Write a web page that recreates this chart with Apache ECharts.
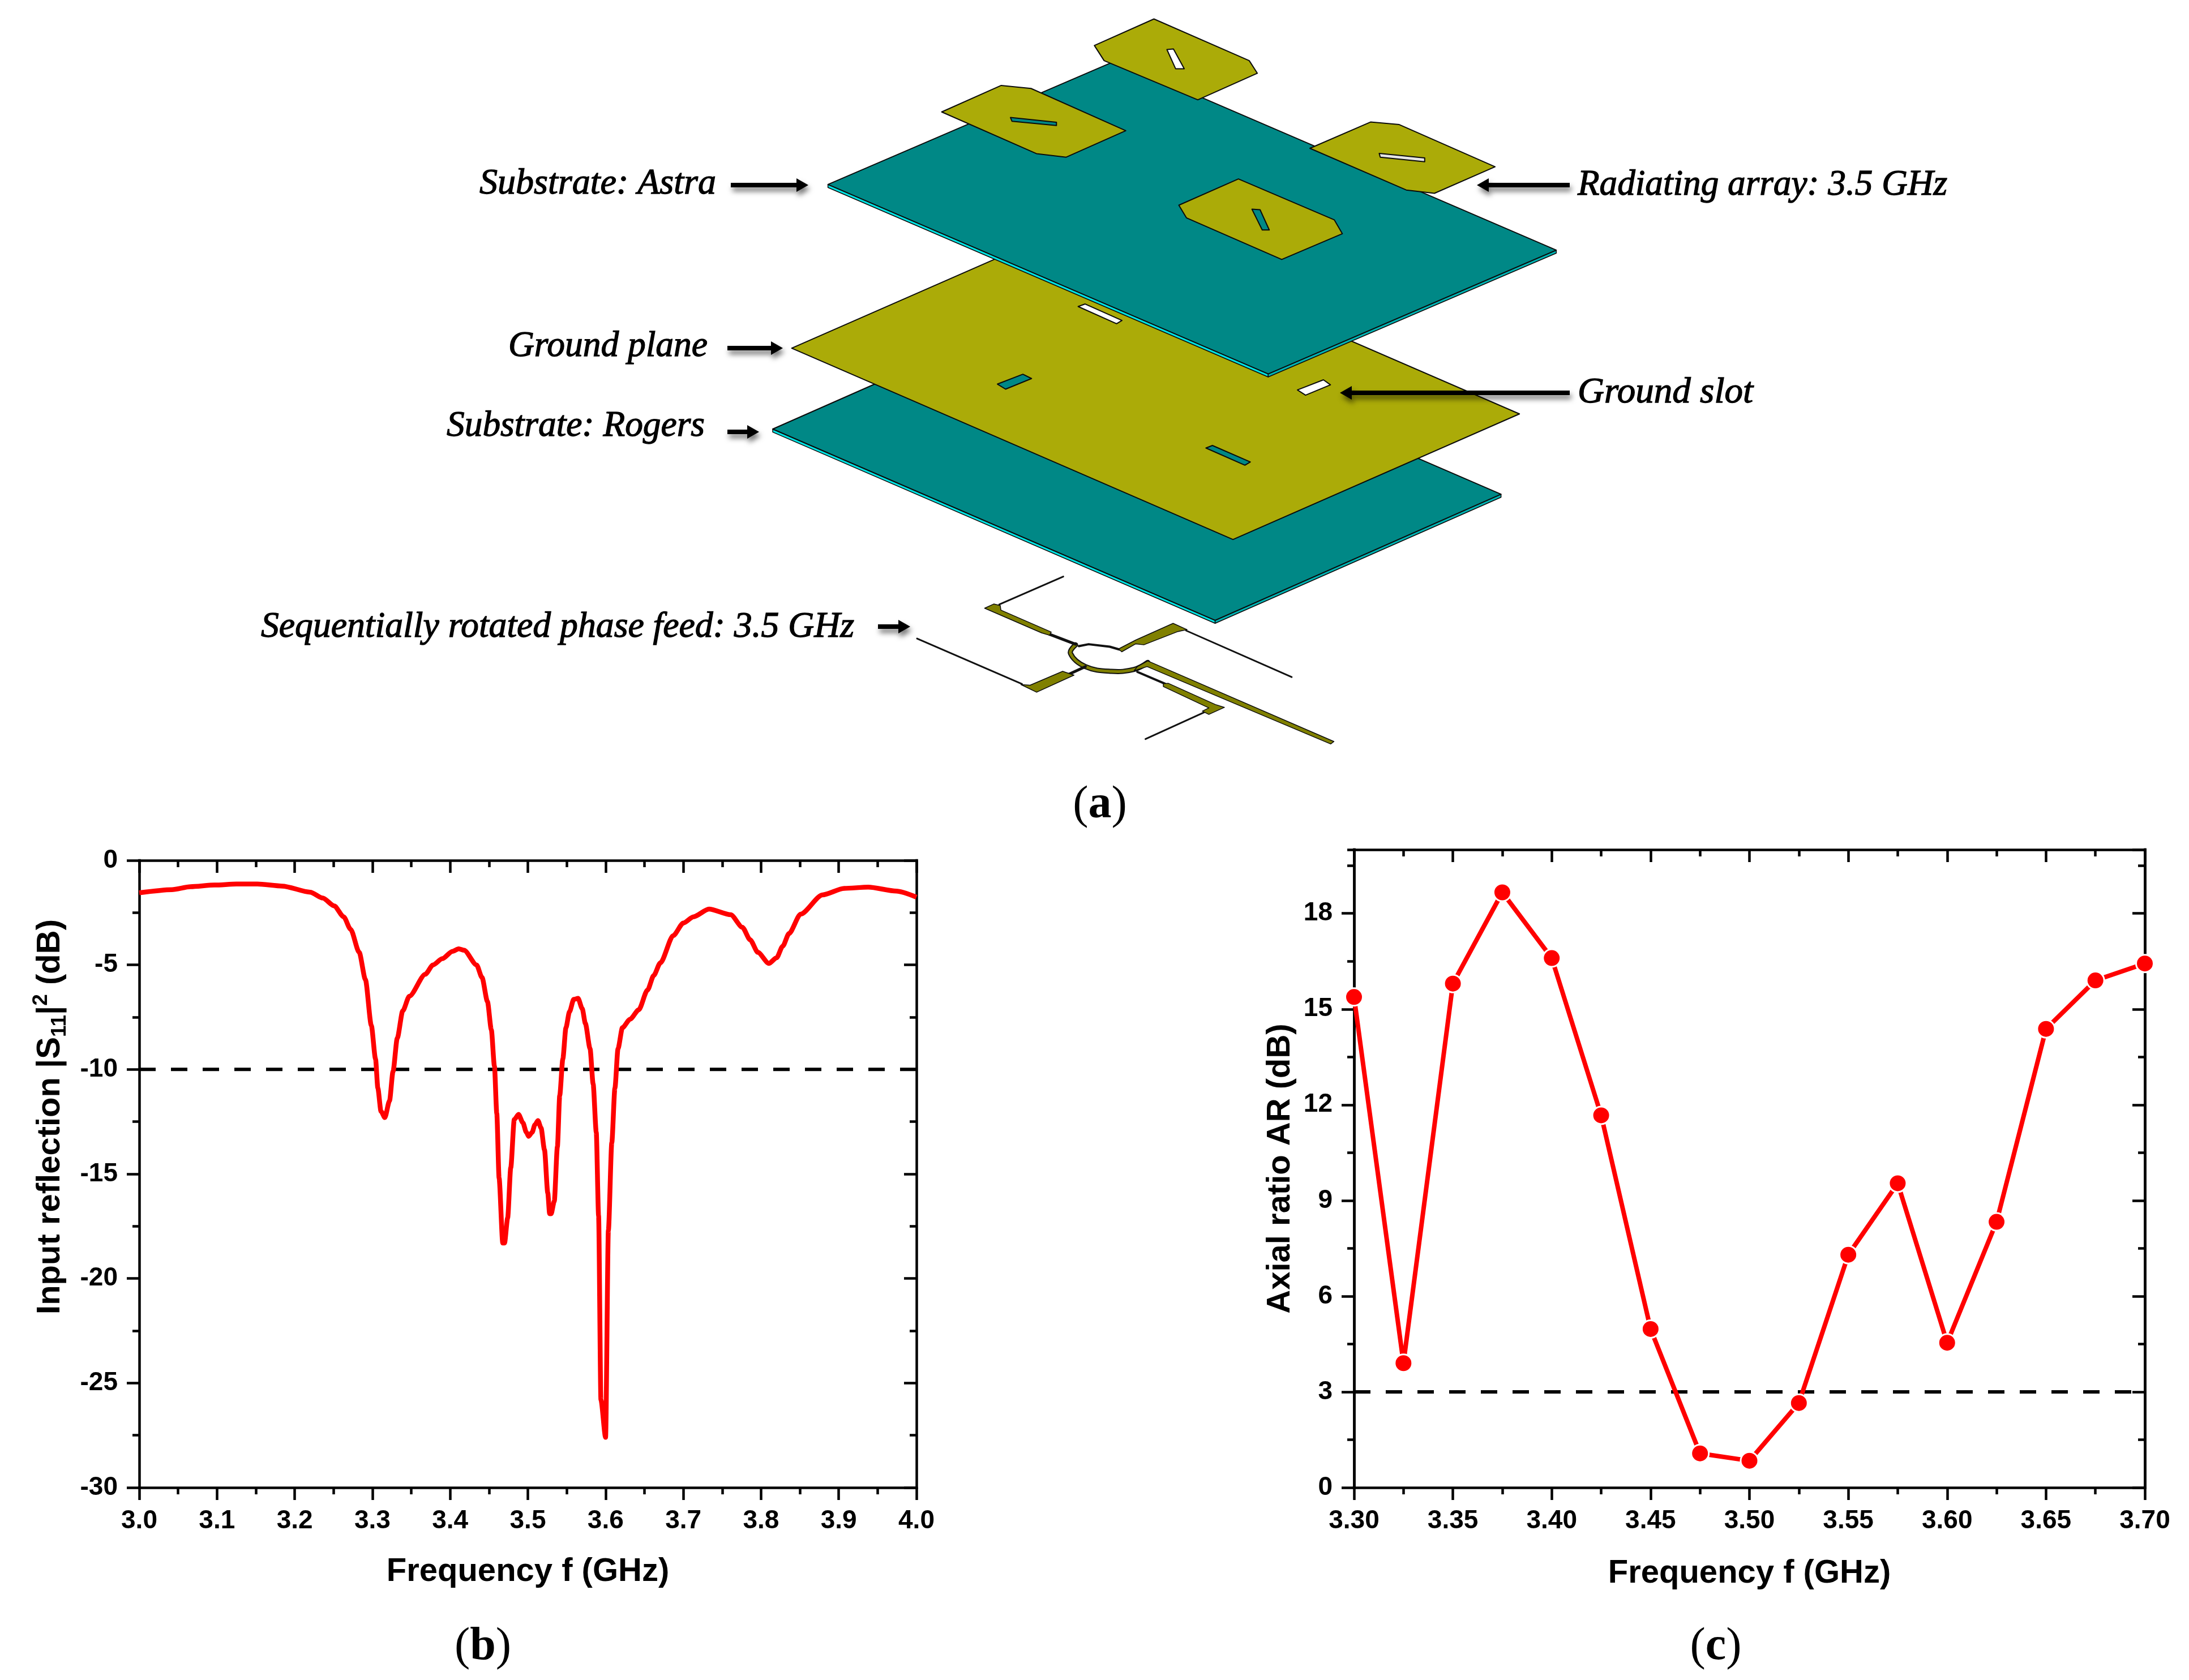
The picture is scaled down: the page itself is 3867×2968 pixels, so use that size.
<!DOCTYPE html>
<html>
<head>
<meta charset="utf-8">
<style>html,body{margin:0;padding:0;background:#fff}#c{width:3867px;height:2968px}</style>
<script src="https://cdn.jsdelivr.net/npm/echarts@6/dist/echarts.min.js"></script>
</head>
<body>
<div id="c"></div>
<script>
// ---------- data ----------
const s11Freq = [3.0,3.042,3.066,3.097,3.125,3.152,3.184,3.22,3.236,3.251,3.263,3.272,3.283,3.291,3.2986,3.304,3.307,3.311,3.316,3.322,3.3265,3.332,3.339,3.3475,3.368,3.378,3.39,3.403,3.411,3.418,3.434,3.441,3.448,3.453,3.457,3.46,3.463,3.4677,3.47,3.474,3.478,3.4825,3.488,3.4936,3.498,3.501,3.5056,3.509,3.513,3.517,3.5214,3.5256,3.528,3.53,3.534,3.538,3.541,3.545,3.549,3.5535,3.559,3.5646,3.57,3.574,3.58,3.584,3.588,3.591,3.594,3.6,3.6036,3.608,3.612,3.616,3.6217,3.6315,3.6426,3.654,3.662,3.6705,3.687,3.7,3.713,3.733,3.761,3.776,3.786,3.796,3.81,3.82,3.828,3.836,3.851,3.879,3.907,3.938,3.974,4.0];
const s11Db = [-1.55,-1.4,-1.26,-1.18,-1.13,-1.13,-1.23,-1.52,-1.8,-2.18,-2.7,-3.3,-4.4,-5.7,-7.9,-9.5,-10.9,-12.0,-12.3,-11.5,-10.1,-8.5,-7.2,-6.5,-5.45,-5.0,-4.7,-4.35,-4.23,-4.3,-5.0,-5.6,-6.75,-8.1,-9.85,-12.1,-15.2,-18.3,-18.3,-17.1,-14.7,-12.4,-12.15,-12.55,-13.0,-13.2,-13.0,-12.65,-12.45,-12.8,-13.85,-15.9,-16.9,-16.9,-16.3,-13.7,-11.25,-9.5,-8.0,-7.25,-6.65,-6.6,-7.1,-7.8,-9.0,-10.7,-13,-17,-25.8,-27.6,-17.7,-13.5,-10.9,-9,-8,-7.6,-7.15,-6.2,-5.5,-4.9,-3.6,-3.0,-2.7,-2.33,-2.6,-3.2,-3.8,-4.4,-4.93,-4.66,-4.1,-3.5,-2.57,-1.65,-1.34,-1.28,-1.47,-1.76];
const s11LimitFreq = [3.0,4.0];
const s11Limit = [-10,-10];
const arFreq = [3.3,3.325,3.35,3.375,3.4,3.425,3.45,3.475,3.5,3.525,3.55,3.575,3.6,3.625,3.65,3.675,3.7];
const arDb = [15.38,3.9,15.8,18.66,16.6,11.67,4.97,1.07,0.84,2.65,7.3,9.54,4.54,8.33,14.38,15.9,16.43];
const arLimitFreq = [3.3,3.7];
const arLimit = [3,3];
const calloutTexts = ['Substrate: Astra','Radiating array: 3.5 GHz','Ground plane','Substrate: Rogers','Ground slot','Sequentially rotated phase feed: 3.5 GHz'];
const panelLetters = ['a','b','c'];
const xTitle = 'Frequency f (GHz)';
const arTitle = 'Axial ratio AR (dB)';

// ---------- colours ----------
const TEAL='#008886', OLIVE='#abab08', CYAN='#00e3e3', DARKOLIVE='#808000', RED='#ff0000', INK='#000';
const SANS='"Liberation Sans", Arial, sans-serif', SERIF='"Liberation Serif", serif';

const zip=(a,b)=>a.map((v,i)=>[v,b[i]]);

// ---------- helpers for the exploded-view illustration ----------
const z3=(x,y)=>[1300+.9566*x,.4464*y];
const z4=(x,y)=>[1300+.9566*x,450+.4464*y];
const z5=(x,y)=>[1550+.574*x,980+.335*y];
const map=(f,a)=>a.map(p=>f(p[0],p[1]));
const els=[];
function poly(f,pts,fill,lw){els.push({type:'polygon',silent:true,shape:{points:map(f,pts)},style:{fill:fill,stroke:'#0a0a0a',lineWidth:lw===undefined?2:lw,lineJoin:'round'}});}
function wire(f,pts,color,lw,smooth){els.push({type:'polyline',silent:true,shape:{points:map(f,pts),smooth:smooth||0},style:{fill:null,stroke:color,lineWidth:lw,lineCap:'round',lineJoin:'round'}});}
function slab(f,L,B,R,T,h){
  poly(f,[L,B,[B[0],B[1]+h],[L[0],L[1]+h]],CYAN,1.5);
  poly(f,[B,R,[R[0],R[1]+h],[B[0],B[1]+h]],'#00b4b4',1.5);
  poly(f,[L,B,R,T],TEAL,2);
}
function arrow(x1,x2,y){
  const dir=x2>x1?1:-1, head=21, half=12;
  const sh={shadowColor:'rgba(0,0,0,0.55)',shadowBlur:10,shadowOffsetX:3,shadowOffsetY:7};
  els.push({type:'line',silent:true,shape:{x1:x1,y1:y,x2:x2-dir*head,y2:y},style:Object.assign({stroke:INK,lineWidth:8},sh)});
  els.push({type:'polygon',silent:true,shape:{points:[[x2,y],[x2-dir*head,y-half],[x2-dir*head,y+half]]},style:Object.assign({fill:INK},sh)});
}
const measure=document.createElement('canvas').getContext('2d');
function callout(text,xL,xR,baseline){
  const size=64, font='italic '+size+'px "Liberation Serif"';
  measure.font=font;
  const sx=(xR-xL)/measure.measureText(text).width;
  els.push({type:'text',silent:true,x:xL,y:baseline+16,scaleX:sx,style:{text:text,x:0,y:0,font:font,fill:INK,stroke:INK,lineWidth:1.3,align:'left',verticalAlign:'bottom'}});
}
function panel(letter,cx,cy){
  els.push({type:'text',silent:true,style:{x:cx,y:cy,text:'{p|(}{b|'+letter+'}{p|)}',align:'center',verticalAlign:'middle',rich:{p:{font:'82px "Liberation Serif"',fill:INK},b:{font:'bold 82px "Liberation Serif"',fill:INK}}}});
}

// Rogers substrate, ground plane, Astra substrate, patches
slab(z4,[68,690],[885,1447],[1413,948],[596,191],12);
poly(z4,[[103,370],[918,1127],[1447,630],[632,-127]],OLIVE,2);
poly(z4,[[632,205],[645,195],[713,260],[703,273]],'#fff');
poly(z4,[[483,512],[530,473],[546,490],[498,532]],TEAL);
poly(z4,[[1037,535],[1085,495],[1098,515],[1052,556]],'#fff');
poly(z4,[[868,765],[880,755],[950,820],[940,833]],TEAL);
slab(z3,[170,730],[983,1480],[1515,990],[702,240],12);
poly(z3,[[772,75],[948,240],[963,290],[853,395],[680,240],[662,180]],OLIVE);
poly(z3,[[796,196],[808,194],[828,272],[812,272]],'#fff');
poly(z3,[[490,338],[545,350],[720,517],[610,622],[555,608],[380,443]],OLIVE);
poly(z3,[[507,465],[592,484],[592,497],[510,480]],TEAL);
poly(z3,[[1172,483],[1225,493],[1402,660],[1290,765],[1238,752],[1060,587]],OLIVE);
poly(z3,[[1188,607],[1272,625],[1272,640],[1190,622]],'#e6e6e6');
poly(z3,[[928,708],[1105,870],[1120,925],[1008,1027],[832,862],[818,812]],OLIVE);
poly(z3,[[953,828],[968,830],[985,910],[972,910]],TEAL);

// Feed network
wire(z5,[[572,115],[375,262]],'#111',3);
wire(z5,[[122,442],[445,682]],'#111',3);
wire(z5,[[950,400],[1275,645]],'#111',3);
wire(z5,[[1005,832],[825,972]],'#111',3);
wire(z5,[[800,618],[885,680]],'#111',4);
wire(z5,[[620,482],[650,472],[715,485],[745,500]],'#111',4);
wire(z5,[[610,475],[594,520],[640,590],[720,615],[790,605],[832,568]],'#111',9,.4);
wire(z5,[[610,475],[594,520],[640,590],[720,615],[790,605],[832,568]],DARKOLIVE,5,.4);
wire(z5,[[530,420],[610,472]],'#111',5);
wire(z5,[[590,630],[640,590]],'#111',5);
poly(z5,[[330,282],[358,260],[378,268],[380,292],[535,408],[530,425],[505,412]],DARKOLIVE,1.5);
poly(z5,[[742,497],[795,450],[910,362],[953,395],[925,405],[820,475],[795,470],[752,512]],DARKOLIVE,1.5);
poly(z5,[[442,685],[470,688],[570,615],[605,635],[490,725]],DARKOLIVE,1.5);
poly(z5,[[880,680],[895,678],[1040,790],[1068,805],[1020,842],[1000,825],[1020,808],[880,695]],DARKOLIVE,1.5);
poly(z5,[[800,590],[832,560],[1405,985],[1395,998],[830,590],[790,612]],DARKOLIVE,1.5);

// Callout arrows and texts
arrow(1291,1428,327);
arrow(1285,1383,615);
arrow(1285,1341,763);
arrow(1551,1608,1107);
arrow(2773,2609,327);
arrow(2773,2367,694);
callout(calloutTexts[0],847,1265,341);
callout(calloutTexts[1],2787,3440,343);
callout(calloutTexts[2],898,1250,628);
callout(calloutTexts[3],789,1245,769);
callout(calloutTexts[4],2787,3097,710);
callout(calloutTexts[5],461,1509,1124);
panel(panelLetters[0],1943,1423);
panel(panelLetters[1],853,2910);
panel(panelLetters[2],3031,2910);

// ---------- axes ----------
const AW=4.5, MAJ=22, MIN=12;
const labelStyle={fontFamily:SANS,fontWeight:'bold',fontSize:46,color:INK};
const nameStyle={fontFamily:SANS,fontWeight:'bold',fontSize:58,color:INK};
const line={show:true,onZero:false,lineStyle:{color:INK,width:AW,cap:'square'}};
function xA(grid,min,max,interval,digits,main){
  return {type:'value',gridIndex:grid,min:min,max:max,interval:interval,position:main?'bottom':'top',
    splitLine:{show:false},axisLine:line,
    axisTick:{show:true,inside:!main,length:MAJ,lineStyle:{color:INK,width:AW}},
    minorTick:{show:true,splitNumber:2,length:MIN,lineStyle:{color:INK,width:AW}},
    minorSplitLine:{show:false},
    axisLabel:{show:!!main,margin:36,showMinLabel:true,showMaxLabel:true,hideOverlap:false,formatter:v=>v.toFixed(digits),...labelStyle},
    name:main?xTitle:'',nameLocation:'middle',nameGap:main?main:0,nameTextStyle:nameStyle};
}
function yA(grid,min,max,interval,main,extra){
  return Object.assign({type:'value',gridIndex:grid,min:min,max:max,interval:interval,position:main?'left':'right',
    splitLine:{show:false},axisLine:line,
    axisTick:{show:true,inside:!main,length:MAJ,lineStyle:{color:INK,width:AW}},
    minorTick:{show:false},minorSplitLine:{show:false},
    axisLabel:{show:!!main,margin:38,showMinLabel:true,showMaxLabel:true,hideOverlap:false,...labelStyle}},extra||{});
}
const s11Name={name:'{a|Input reflection |S}{s|11}{a||}{u|2}{a| (dB)}',nameLocation:'middle',nameGap:122,
  nameTextStyle:{padding:[0,0,0,202],rich:{
    a:{fontFamily:SANS,fontWeight:'bold',fontSize:58,color:INK,lineHeight:70,verticalAlign:'middle'},
    s:{fontFamily:SANS,fontWeight:'bold',fontSize:37,color:INK,lineHeight:44,verticalAlign:'bottom'},
    u:{fontFamily:SANS,fontWeight:'bold',fontSize:37,color:INK,lineHeight:44,verticalAlign:'top'}}}};
const minorB={minorTick:{show:true,splitNumber:2,length:MIN,lineStyle:{color:INK,width:AW}}};

const option={
  animation:false,
  backgroundColor:'#fff',
  grid:[
    {left:246,top:1520,width:1373,height:1108,containLabel:false},
    {left:2392,top:1501,width:1397,height:1127,containLabel:false}
  ],
  xAxis:[
    xA(0,3.0,4.0,0.1,1,120),
    xA(0,3.0,4.0,0.1,1,0),
    xA(1,3.3,3.7,0.05,2,123),
    xA(1,3.3,3.7,0.05,2,0)
  ],
  yAxis:[
    yA(0,-30,0,5,true,Object.assign({},s11Name,minorB)),
    yA(0,-30,0,5,false,minorB),
    yA(1,0,20,3,true,{name:arTitle,nameLocation:'middle',nameGap:101,nameTextStyle:nameStyle,
      axisLabel:{show:true,margin:38,showMinLabel:true,showMaxLabel:false,hideOverlap:false,...labelStyle}}),
    yA(1,0,20,3,false),
    // half-step ticks of panel c, so that the 19.5 tick exists although the frame ends at 20
    yA(1,0,20,1.5,true,{axisLabel:{show:false},axisTick:{show:true,length:MIN,lineStyle:{color:INK,width:AW}}}),
    yA(1,0,20,1.5,false,{axisLabel:{show:false},axisTick:{show:true,inside:true,length:MIN,lineStyle:{color:INK,width:AW}}})
  ],
  series:[
    {type:'line',name:'limit',xAxisIndex:0,yAxisIndex:0,data:zip(s11LimitFreq,s11Limit),showSymbol:false,z:2,
      lineStyle:{color:INK,width:6,type:[29,27]},silent:true},
    {type:'line',name:'S11',xAxisIndex:0,yAxisIndex:0,data:zip(s11Freq,s11Db),showSymbol:false,z:3,
      smooth:0.25,smoothMonotone:'x',lineStyle:{color:RED,width:8.5,join:'round'},silent:true},
    {type:'line',name:'limit AR',xAxisIndex:2,yAxisIndex:2,data:zip(arLimitFreq,arLimit),showSymbol:false,z:2,
      lineStyle:{color:INK,width:6,type:[29,27]},silent:true},
    {type:'line',name:'AR',xAxisIndex:2,yAxisIndex:2,data:zip(arFreq,arDb),showSymbol:true,showAllSymbol:true,symbol:'circle',symbolSize:31,clip:false,z:5,
      lineStyle:{color:RED,width:8,join:'round'},itemStyle:{color:RED,borderColor:'#fff',borderWidth:3},silent:true}
  ],
  graphic:{elements:els}
};
const chart=echarts.init(document.getElementById('c'),null,{renderer:'canvas',width:3867,height:2968});
chart.setOption(option);
</script>
</body>
</html>
